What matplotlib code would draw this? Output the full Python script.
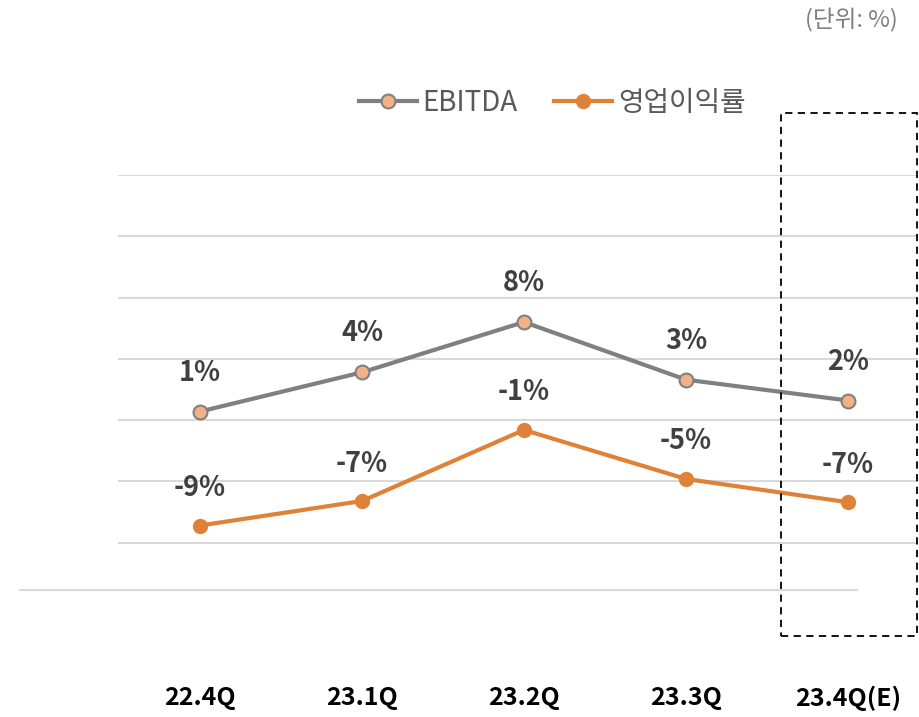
import matplotlib.pyplot as plt
from matplotlib.lines import Line2D
from matplotlib.patches import Rectangle

plt.rcParams['font.family'] = ['Noto Sans CJK KR', 'DejaVu Sans']

quarters = ["22.4Q", "23.1Q", "23.2Q", "23.3Q", "23.4Q(E)"]
ebitda = [0.7, 3.9, 8.0, 3.3, 1.6]
op_margin = [-8.6, -6.6, -0.8, -4.8, -6.7]

gray_line = "#808080"
orange = "#DF8238"

fig = plt.figure(figsize=(9.2, 7.17), dpi=100)
W, H = 920, 717

# axes placed in pixel terms of the reference
ax = fig.add_axes([118 / W, (H - 591.7) / H, 800 / W, (591.7 - 175) / H])
x = list(range(len(quarters)))
ax.set_xlim(-82 / 162, 4 + 70 / 162)
ax.set_ylim(-14, 20)
ax.set_yticks([-10, -5, 0, 5, 10, 15, 20])
ax.yaxis.grid(True, color="#D9D9D9", linewidth=1.5)
ax.set_axisbelow(True)
for s in ax.spines.values():
    s.set_visible(False)
ax.tick_params(left=False, bottom=False, labelleft=False, labelbottom=False)

ax.plot(x, ebitda, color=gray_line, linewidth=3, marker="o", markersize=10,
        markerfacecolor="#F4B183", markeredgecolor=gray_line, markeredgewidth=1.5,
        label="EBITDA", zorder=3)
ax.plot(x, op_margin, color=orange, linewidth=3, marker="o", markersize=10,
        markerfacecolor=orange, markeredgecolor=orange, label="영업이익률", zorder=3)

for xi, v in zip(x, ebitda):
    ax.annotate(f"{v:.0f}%", (xi, v), xytext=(0, 28), textcoords="offset points",
                ha="center", va="center", fontsize=19.5, fontweight="bold", color="#404040")
for xi, v in zip(x, op_margin):
    ax.annotate(f"{v:.0f}%", (xi, v), xytext=(0, 27), textcoords="offset points",
                ha="center", va="center", fontsize=19.5, fontweight="bold", color="#404040")

for xi, q in zip(x, quarters):
    ax.text(xi, -0.255, q, transform=ax.get_xaxis_transform(), ha="center", va="center",
            fontsize=18, fontweight="bold", color="black")

# bottom baseline
fig.add_artist(Line2D([20 / W, 857 / W], [(H - 589.5) / H] * 2, color="#D9D9D9", linewidth=1.5))

# dashed box around the estimate
fig.add_artist(Rectangle((781 / W, (H - 636) / H), 136 / W, 523 / H, fill=False,
                         edgecolor="black", linestyle=(0, (4, 3)), linewidth=1.3))

leg = fig.legend(loc="center", bbox_to_anchor=(552 / W, (H - 103) / H), ncol=2, frameon=False,
                 fontsize=20, handlelength=2.1, columnspacing=1.3, handletextpad=0.2)
for t in leg.get_texts():
    t.set_color("#595959")

fig.text(898 / W, (H - 20) / H, "(단위: %)", ha="right", va="center", fontsize=17, color="#7F7F7F")

fig.savefig("out.png", dpi=100)
